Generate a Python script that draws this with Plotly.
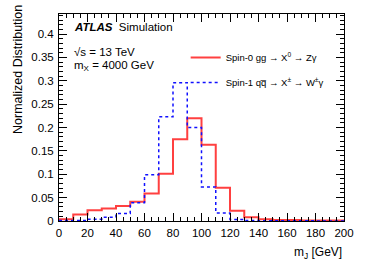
import plotly.graph_objects as go

bin_edges = list(range(0, 210, 10))
spin0_values = [0.004, 0.014, 0.023, 0.027, 0.032, 0.041, 0.059, 0.101, 0.175, 0.220,
                0.163, 0.071, 0.022, 0.008, 0.004, 0.002, 0.002, 0.001, 0.001, 0.001]
spin1_values = [0.001, 0.001, 0.004, 0.008, 0.016, 0.039, 0.099, 0.223, 0.296, 0.200,
                0.073, 0.017, 0.003, 0.001, 0.0005, 0.0005, 0.0003, 0.0003, 0.0002, 0.0002]
spin0_name = "Spin-0 gg \u2192 X<sup>0</sup> \u2192 Z\u03b3"
spin1_name = "Spin-1 q\u0305q\u0305 \u2192 X<sup>\u00b1</sup> \u2192 W<sup>\u00b1</sup>\u03b3"
spin1_name = "Spin-1 qq\u0305 \u2192 X<sup>\u00b1</sup> \u2192 W<sup>\u00b1</sup>\u03b3"

FONT = "Liberation Sans, Arial, sans-serif"

fig = go.Figure()
fig.add_trace(go.Scatter(
    x=bin_edges, y=spin0_values + [spin0_values[-1]], mode="lines",
    line=dict(shape="hv", color="rgba(255,30,30,0.85)", width=2),
    name=spin0_name, legendgroup="a"))
fig.add_trace(go.Scatter(
    x=bin_edges, y=spin1_values + [spin1_values[-1]], mode="lines",
    line=dict(shape="hv", color="#1010ff", width=1.5, dash="dot"),
    name=spin1_name, legendgroup="b"))

L, R, T, B = 59, 19, 14, 43
W, H = 366, 264
pw, ph = W - L - R, H - T - B

def px(xp):
    return (xp - L) / pw

def py(yp):
    return (H - B - yp) / ph

fig.update_layout(
    width=W, height=H,
    margin=dict(l=L, r=R, t=T, b=B),
    paper_bgcolor="white", plot_bgcolor="white",
    font=dict(family=FONT, color="black", size=11),
    showlegend=True,
    legend=dict(x=px(187), y=py(43), xanchor="left", yanchor="top",
                bgcolor="rgba(0,0,0,0)", font=dict(size=9.5, family=FONT),
                tracegroupgap=6, itemwidth=30),
    xaxis=dict(range=[0, 200], dtick=20, tick0=0, showgrid=False, zeroline=False,
               showline=True, linecolor="black", linewidth=1, mirror="allticks",
               ticks="inside", ticklen=8, tickcolor="black",
               minor=dict(dtick=5, ticks="inside", ticklen=4, tickcolor="black"),
               tickfont=dict(size=11.5), ticklabelstandoff=1),
    yaxis=dict(range=[0, 0.443], dtick=0.05, tick0=0, showgrid=False, zeroline=False,
               showline=True, linecolor="black", linewidth=1, mirror="allticks",
               ticks="inside", ticklen=8, tickcolor="black",
               minor=dict(dtick=0.01, ticks="inside", ticklen=4, tickcolor="black"),
               tickfont=dict(size=11.5), ticklabelstandoff=2),
)

fig.add_annotation(xref="paper", yref="paper", x=px(17), y=py(3),
                   text="Normalized Distribution", textangle=-90, showarrow=False,
                   xanchor="center", yanchor="top", font=dict(size=12.5))
fig.add_annotation(xref="paper", yref="paper", x=1.0, y=py(243),
                   text="m<sub>J</sub> [GeV]", showarrow=False,
                   xanchor="right", yanchor="top", font=dict(size=12))
fig.add_annotation(xref="paper", yref="paper", x=px(72), y=py(27),
                   text="<b><i>ATLAS</i></b>  Simulation", showarrow=False,
                   xanchor="left", yanchor="middle", font=dict(size=11.5))
fig.add_annotation(xref="paper", yref="paper", x=px(72), y=py(52),
                   text="\u221as = 13 TeV", showarrow=False,
                   xanchor="left", yanchor="middle", font=dict(size=11.5))
fig.add_annotation(xref="paper", yref="paper", x=px(72), y=py(66),
                   text="m<sub>X</sub> = 4000 GeV", showarrow=False,
                   xanchor="left", yanchor="middle", font=dict(size=11.5))

fig.write_html("out.html", config={"displayModeBar": False},
               post_script="document.body.style.margin='0';")
